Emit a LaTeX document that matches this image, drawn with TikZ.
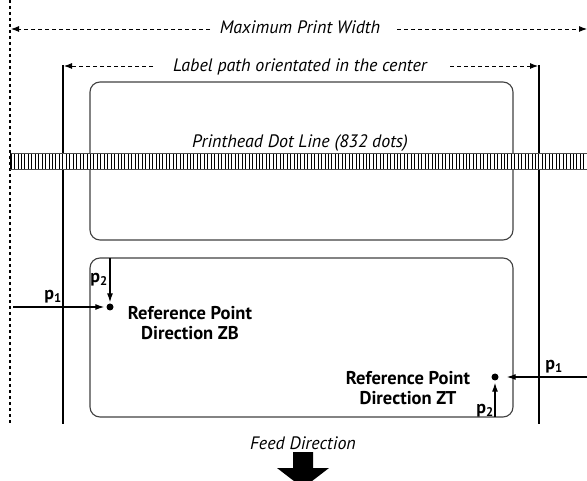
\documentclass[tikz,border=0pt]{standalone}
\usepackage{fontspec}
\setmainfont{PT Sans}
\usetikzlibrary{arrows.meta}

\begin{document}
\begin{tikzpicture}[x=1pt,y=-1pt,
  guide/.style={line width=1.8pt},
  labelbox/.style={draw=black!75, line width=1.1pt, rounded corners=10pt},
  dimline/.style={dash pattern=on 4pt off 3pt, line width=0.9pt, -{Latex[length=8pt,width=6pt]}},
  refarrow/.style={line width=1.2pt, -{Latex[length=9pt,width=6pt]}},
  caption/.style={font=\fontsize{18}{20}\selectfont\itshape, anchor=base, inner sep=0pt},
  refpt/.style={circle, fill, inner sep=0pt, minimum size=7pt},
  reftext/.style={font=\fontsize{18.5}{20}\selectfont\bfseries, align=center, inner sep=0pt},
  plabel/.style={font=\fontsize{18}{20}\selectfont\bfseries, inner sep=0pt},
]
\useasboundingbox (0,0) rectangle (587,481);

% outer limit of the printable width (dotted)
\draw[line width=2pt, dash pattern=on 3pt off 3pt] (10,0) -- (10,423);

% edges of the label path
\draw[guide] (63,65) -- (63,424);
\draw[guide] (539,65) -- (539,424);

% maximum print width dimension
\node[caption] (maxw) at (300,34) {Maximum Print Width};
\coordinate (maxwL) at (210,29);
\coordinate (maxwR) at (397,29);
\coordinate (maxwLend) at (11,29);
\coordinate (maxwRend) at (587,29);
\draw[dimline] (maxwL) -- (maxwLend);
\draw[dimline] (maxwR) -- (maxwRend);

% label path dimension
\node[caption] (lpath) at (300,72) {Label path orientated in the center};
\coordinate (lpathL) at (153,66);
\coordinate (lpathR) at (450,66);
\coordinate (lpathLend) at (64,66);
\coordinate (lpathRend) at (538,66);
\draw[dimline] (lpathL) -- (lpathLend);
\draw[dimline] (lpathR) -- (lpathRend);

% labels on the liner
\draw[labelbox] (90,82) rectangle (513,240);
\draw[labelbox] (90,258) rectangle (513,417);

% printhead dot line
\node[caption] (phead) at (300,148) {Printhead Dot Line (832 dots)};
\fill[white] (10,153) rectangle (587,169);
\foreach \x in {11,14.45,...,587}
  \draw[line width=0.8pt] (\x,153) -- (\x,169);
\draw[line width=0.9pt, black!70] (10,153) -- (587,153) (10,169) -- (587,169);
\draw[line width=0.9pt] (10,153) -- (10,169);

% reference point, direction ZB
\node[refpt] (zb) at (110,307) {};
\coordinate (zbP1) at (13,307);
\coordinate (zbP2) at (110,258);
\draw[refarrow, shorten >=2pt] (zbP1) -- (zb);
\draw[refarrow, shorten >=1pt] (zbP2) -- (zb);
\node[plabel] (zbp1) at (53,297) {p\textsubscript{1}};
\node[plabel] (zbp2) at (99,280) {p\textsubscript{2}};
\node[reftext] (zbtext) at (190,323) {Reference Point\\Direction ZB};

% reference point, direction ZT
\node[refpt] (zt) at (495,377) {};
\coordinate (ztP1) at (587,377);
\coordinate (ztP2) at (495,417);
\draw[refarrow, shorten >=8pt] (ztP1) -- (zt);
\draw[refarrow, shorten >=2pt] (ztP2) -- (zt);
\node[plabel] (ztp1) at (554,367) {p\textsubscript{1}};
\node[plabel] (ztp2) at (485,411) {p\textsubscript{2}};
\node[reftext] (zttext) at (408,388) {Reference Point\\Direction ZT};

% feed direction
\node[caption] (feed) at (303,449) {Feed Direction};
\fill (293,452) -- (313,452) -- (313,468) -- (329,468) -- (303,488)
  -- (277,468) -- (293,468) -- cycle;
\end{tikzpicture}
\end{document}
